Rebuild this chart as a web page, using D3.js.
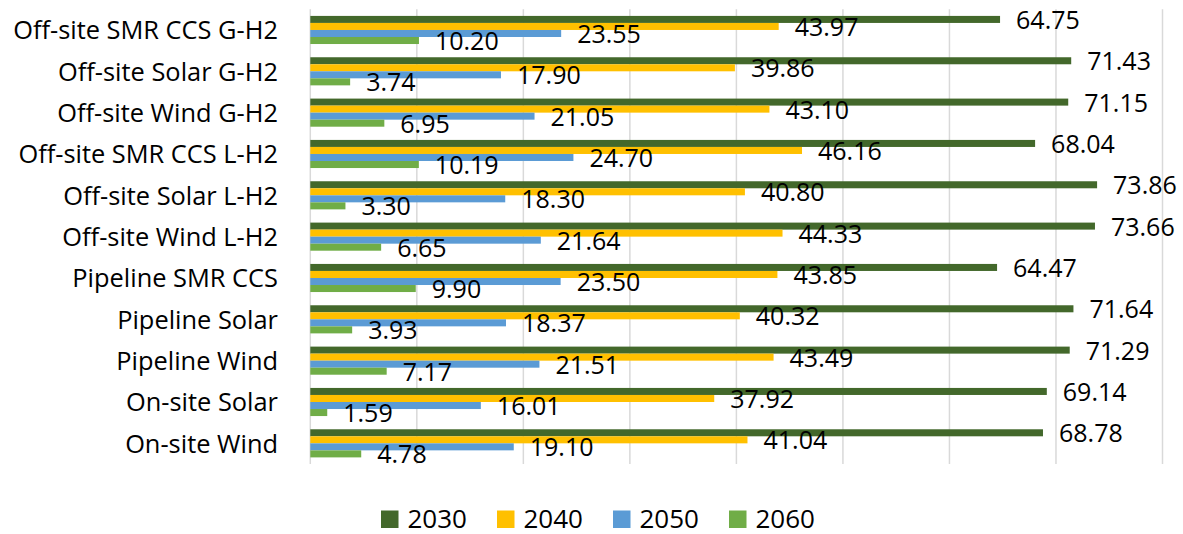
<!DOCTYPE html>
<html>
<head>
<meta charset="utf-8">
<script src="https://cdn.jsdelivr.net/npm/d3@7"></script>
<style>
  html, body { margin: 0; padding: 0; background: #ffffff; }
  svg { display: block; }
  text { font-family: "Open Sans", sans-serif; fill: #000; }
</style>
</head>
<body>
<svg id="chart" width="1183" height="534"></svg>
<script>
const categories = [
  "Off-site SMR CCS G-H2",
  "Off-site Solar G-H2",
  "Off-site Wind G-H2",
  "Off-site SMR CCS L-H2",
  "Off-site Solar L-H2",
  "Off-site Wind L-H2",
  "Pipeline SMR CCS",
  "Pipeline Solar",
  "Pipeline Wind",
  "On-site Solar",
  "On-site Wind"
];
const seriesNames = ["2030", "2040", "2050", "2060"];
const values2030 = [64.75, 71.43, 71.15, 68.04, 73.86, 73.66, 64.47, 71.64, 71.29, 69.14, 68.78];
const values2040 = [43.97, 39.86, 43.10, 46.16, 40.80, 44.33, 43.85, 40.32, 43.49, 37.92, 41.04];
const values2050 = [23.55, 17.90, 21.05, 24.70, 18.30, 21.64, 23.50, 18.37, 21.51, 16.01, 19.10];
const values2060 = [10.20, 3.74, 6.95, 10.19, 3.30, 6.65, 9.90, 3.93, 7.17, 1.59, 4.78];
const gridTicks = [0, 10, 20, 30, 40, 50, 60, 70, 80];
const colors = ["#43682b", "#ffc000", "#5b9bd5", "#70ad47"];

const seriesValues = [values2030, values2040, values2050, values2060];

const svg = d3.select("#chart");
const plotLeft = 310.3, plotRight = 1162.5, plotTop = 9.3, plotBottom = 464;

const x = d3.scaleLinear().domain([0, 80]).range([plotLeft, plotRight]);
const y = d3.scaleBand().domain(categories).range([plotTop, plotBottom]).paddingInner(0.32).paddingOuter(0.16);
const ySub = d3.scaleBand().domain(seriesNames).range([0, y.bandwidth()]);

// gridlines
svg.append("g").selectAll("line").data(gridTicks).join("line")
  .attr("x1", d => x(d)).attr("x2", d => x(d))
  .attr("y1", plotTop).attr("y2", plotBottom)
  .attr("stroke", "#d9d9d9").attr("stroke-width", 1.5);

// bars
const groups = svg.append("g").selectAll("g").data(categories).join("g")
  .attr("transform", c => `translate(0,${y(c)})`);

groups.each(function(c, i) {
  const g = d3.select(this);
  const rows = seriesNames.map((s, k) => ({ s, k, v: seriesValues[k][i] }));
  g.selectAll("rect").data(rows).join("rect")
    .attr("x", x(0))
    .attr("y", d => ySub(d.s))
    .attr("width", d => x(d.v) - x(0))
    .attr("height", ySub.bandwidth())
    .attr("fill", d => colors[d.k]);
  g.selectAll("text").data(rows).join("text")
    .attr("x", d => x(d.v) + 16)
    .attr("y", d => ySub(d.s) + ySub.bandwidth() / 2 + 9.5)
    .attr("font-size", 25)
    .text(d => d.v.toFixed(2));
});

// category labels
svg.append("g").selectAll("text").data(categories).join("text")
  .attr("x", 278)
  .attr("y", c => y(c) + y.bandwidth() / 2 + 9.5)
  .attr("text-anchor", "end")
  .attr("font-size", 25.4)
  .text(c => c);

// legend
const legend = svg.append("g").selectAll("g").data(seriesNames).join("g")
  .attr("transform", (s, k) => `translate(${381 + k * 116},0)`);
legend.append("rect")
  .attr("x", 0).attr("y", 510.5).attr("width", 17.5).attr("height", 17.5)
  .attr("fill", (s, k) => colors[k]);
legend.append("text")
  .attr("x", 26.5).attr("y", 527.5)
  .attr("font-size", 26)
  .text(s => s);
</script>
</body>
</html>
